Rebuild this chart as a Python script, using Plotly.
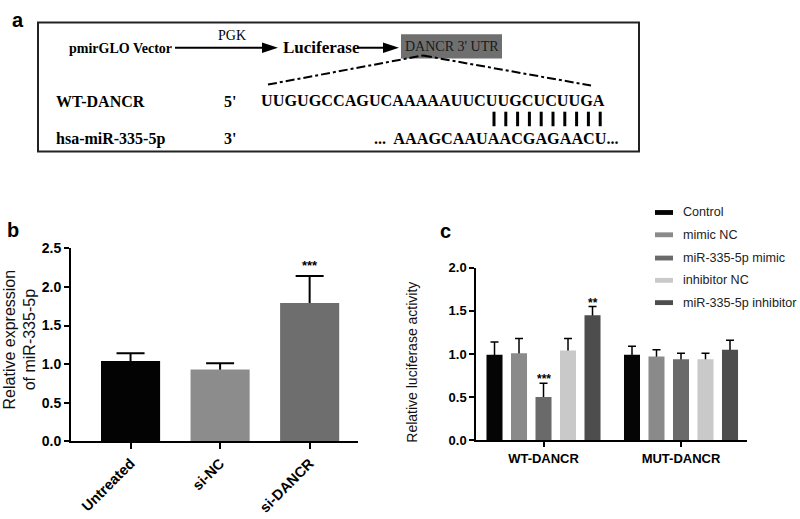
import plotly.graph_objects as go

# ---------------- data ----------------
b_categories = ["Untreated", "si-NC", "si-DANCR"]
b_values = [1.04, 0.93, 1.79]
b_errors = [0.10, 0.08, 0.35]
b_sig = ["", "", "***"]
b_colors = ["#030303", "#8c8c8c", "#6e6e6e"]

c_groups = ["WT-DANCR", "MUT-DANCR"]
c_series = ["Control", "mimic NC", "miR-335-5p mimic", "inhibitor NC", "miR-335-5p inhibitor"]
c_control = [0.99, 0.99]
c_control_err = [0.15, 0.10]
c_mimic_nc = [1.01, 0.97]
c_mimic_nc_err = [0.17, 0.08]
c_mimic = [0.50, 0.94]
c_mimic_err = [0.16, 0.07]
c_inhib_nc = [1.04, 0.94]
c_inhib_nc_err = [0.14, 0.07]
c_inhib = [1.45, 1.05]
c_inhib_err = [0.10, 0.11]
c_sig = [["", ""], ["", ""], ["***", ""], ["", ""], ["**", ""]]
c_colors = ["#050505", "#8a8a8a", "#6a6a6a", "#c9c9c9", "#4d4d4d"]

wt_seq = "UUGUGCCAGUCAAAAAUUCUUGCUCUUGA"
mir_seq = "...  AAAGCAAUAACGAGAACU..."

W, H = 800, 519
SANS = "Liberation Sans"
SERIF = "Liberation Serif"


def px(x):
    return x / W


def py(y):
    return 1 - y / H


fig = go.Figure()
CLEAR = "rgba(0,0,0,0)"

# ---------------- panel b ----------------
B_WIDTH = 0.66
# error bars on a hidden trace drawn first, so the solid bars hide the lower half
fig.add_trace(go.Bar(
    x=b_categories, y=b_values, width=B_WIDTH, offset=-B_WIDTH / 2,
    marker=dict(color=CLEAR, line=dict(width=0)),
    error_y=dict(type="data", array=b_errors, color="black", thickness=2, width=14),
    xaxis="x", yaxis="y", showlegend=False, hoverinfo="skip",
))
fig.add_trace(go.Bar(
    x=b_categories, y=b_values, width=B_WIDTH, offset=-B_WIDTH / 2,
    marker=dict(color=b_colors, line=dict(width=0)),
    xaxis="x", yaxis="y", showlegend=False,
))

# ---------------- panel c ----------------
c_vals = [c_control, c_mimic_nc, c_mimic, c_inhib_nc, c_inhib]
c_errs = [c_control_err, c_mimic_nc_err, c_mimic_err, c_inhib_nc_err, c_inhib_err]
BARGAP = 0.109
BARGROUPGAP = 0.346
n_ser = len(c_series)
slot = (1 - BARGAP) / n_ser
c_width = slot * (1 - BARGROUPGAP)
c_offsets = [(si - (n_ser - 1) / 2) * slot for si in range(n_ser)]

for name, vals, errs, off in zip(c_series, c_vals, c_errs, c_offsets):
    fig.add_trace(go.Bar(
        x=c_groups, y=vals, width=c_width, offset=off - c_width / 2,
        marker=dict(color=CLEAR, line=dict(width=0)),
        error_y=dict(type="data", array=errs, color="black", thickness=1.5, width=4),
        xaxis="x2", yaxis="y2", showlegend=False, hoverinfo="skip",
    ))
for name, vals, col, off in zip(c_series, c_vals, c_colors, c_offsets):
    fig.add_trace(go.Bar(
        x=c_groups, y=vals, name=name, width=c_width, offset=off - c_width / 2,
        marker=dict(color=col, line=dict(width=0)),
        xaxis="x2", yaxis="y2", showlegend=False,
    ))

annotations = []
shapes = []

# significance marks
for i, (cat, v, e, s) in enumerate(zip(b_categories, b_values, b_errors, b_sig)):
    if s:
        annotations.append(dict(x=i, y=v + e, xref="x", yref="y", text=s, showarrow=False,
                                yanchor="bottom", yshift=1,
                                font=dict(family=SANS, size=13, color="black", weight="bold")))
for vals, errs, sigs, off in zip(c_vals, c_errs, c_sig, c_offsets):
    for gi, s in enumerate(sigs):
        if s:
            annotations.append(dict(x=gi + off, y=vals[gi] + errs[gi], xref="x2", yref="y2", text=s,
                                    showarrow=False, yanchor="bottom", yshift=-5,
                                    font=dict(family=SANS, size=12, color="black", weight="bold")))

# axis titles
annotations.append(dict(x=px(20), y=py(342), xref="paper", yref="paper",
                        text="Relative expression<br>of miR-335-5p", textangle=-90,
                        xanchor="center", yanchor="middle",
                        showarrow=False, font=dict(family=SANS, size=16, color="#111")))
annotations.append(dict(x=px(412), y=py(366), xref="paper", yref="paper",
                        text="Relative luciferase activity", textangle=-90,
                        xanchor="center", yanchor="middle",
                        showarrow=False, font=dict(family=SANS, size=14, color="#111")))

# panel letters
for letter, x, y in [("a", 18, 12), ("b", 13, 229), ("c", 445, 230)]:
    annotations.append(dict(x=px(x), y=py(y), xref="paper", yref="paper", text=letter,
                            xanchor="center", yanchor="middle",
                            showarrow=False, font=dict(family=SANS, size=20, color="black", weight="bold")))

# manual legend
leg_y = [211, 234, 258, 281, 304]
for name, col, y in zip(c_series, c_colors, leg_y):
    shapes.append(dict(type="rect", xref="paper", yref="paper",
                       x0=px(655), x1=px(673), y0=py(y + 2.5), y1=py(y - 2.5),
                       fillcolor=col, line=dict(width=0)))
    annotations.append(dict(x=px(681), y=py(y), xref="paper", yref="paper", text=name,
                            xanchor="left", yanchor="middle", showarrow=False,
                            font=dict(family=SANS, size=12.6, color="#222")))

# ---------------- panel a (schematic) ----------------
shapes.append(dict(type="rect", xref="paper", yref="paper", x0=px(38), x1=px(639),
                   y0=py(148), y1=py(15), line=dict(color="#222", width=2)))
# arrows
shapes.append(dict(type="line", xref="paper", yref="paper", x0=px(175), x1=px(265),
                   y0=py(41), y1=py(41), line=dict(color="black", width=2)))
shapes.append(dict(type="path", xref="paper", yref="paper",
                   path=f"M {px(262)} {py(35.5)} L {px(278)} {py(41)} L {px(262)} {py(46.5)} Z",
                   fillcolor="black", line=dict(width=0)))
shapes.append(dict(type="line", xref="paper", yref="paper", x0=px(358), x1=px(386),
                   y0=py(41), y1=py(41), line=dict(color="black", width=2)))
shapes.append(dict(type="path", xref="paper", yref="paper",
                   path=f"M {px(383)} {py(35.5)} L {px(399)} {py(41)} L {px(383)} {py(46.5)} Z",
                   fillcolor="black", line=dict(width=0)))
# gray UTR box
shapes.append(dict(type="rect", xref="paper", yref="paper", x0=px(401), x1=px(502),
                   y0=py(52), y1=py(27), fillcolor="#6f6f6f", line=dict(width=0)))
# dash-dot zoom lines
shapes.append(dict(type="line", xref="paper", yref="paper", x0=px(268), y0=py(79),
                   x1=px(423), y1=py(49), line=dict(color="black", width=2, dash="dashdot")))
shapes.append(dict(type="line", xref="paper", yref="paper", x0=px(423), y0=py(49),
                   x1=px(591), y1=py(80), line=dict(color="black", width=2, dash="dashdot")))
# base-pairing bars
for k in range(10):
    xb = 494 + 11.8 * k
    shapes.append(dict(type="line", xref="paper", yref="paper", x0=px(xb), x1=px(xb),
                       y0=py(107), y1=py(122), line=dict(color="black", width=3)))


def txt(x, y, s, size, bold=False, family=SERIF, color="black", anchor="left"):
    annotations.append(dict(x=px(x), y=py(y), xref="paper", yref="paper", text=s,
                            xanchor=anchor, yanchor="middle", showarrow=False,
                            font=dict(family=family, size=size, color=color,
                                      weight="bold" if bold else "normal")))


txt(67, 42, "pmirGLO Vector", 14, bold=True)
txt(216, 28, "PGK", 14)
txt(281, 41, "Luciferase", 17, bold=True)
txt(452, 40, "DANCR 3' UTR", 14, color="#1a1a1a", anchor="center")
txt(54, 96, "WT-DANCR", 16, bold=True)
txt(222, 96, "5'", 16, bold=True)
txt(259, 96, wt_seq, 16.2, bold=True)
txt(54, 135, "hsa-miR-335-5p", 16, bold=True)
txt(222, 135, "3'", 16, bold=True)
txt(372, 135, mir_seq, 16.2, bold=True)

axis_common = dict(showline=True, linecolor="black", ticks="outside", tickcolor="black",
                   showgrid=False, zeroline=False)

fig.update_layout(
    width=W, height=H, autosize=False,
    margin=dict(l=0, r=0, t=0, b=0),
    paper_bgcolor="white", plot_bgcolor="white",
    barmode="overlay",
    showlegend=False,
    xaxis=dict(domain=[px(71), px(358)], range=[-0.665, 2.54], anchor="y",
               linewidth=2, tickwidth=2, ticklen=6, tickangle=-45,
               tickfont=dict(family=SANS, size=14.5, color="black", weight="bold"), **axis_common),
    yaxis=dict(domain=[py(447), py(248)], range=[0, 2.5], dtick=0.5, tickformat=".1f", anchor="x",
               linewidth=2, tickwidth=2, ticklen=5,
               tickfont=dict(family=SANS, size=14, color="black", weight="bold"), **axis_common),
    xaxis2=dict(domain=[px(476), px(747)], range=[-0.491, 1.48], anchor="y2",
                linewidth=1.5, tickwidth=1.5, ticklen=5,
                tickfont=dict(family=SANS, size=13, color="black", weight="bold"), **axis_common),
    yaxis2=dict(domain=[py(446), py(268)], range=[0, 2.0], dtick=0.5, tickformat=".1f", anchor="x2",
                linewidth=1.5, tickwidth=1.5, ticklen=5,
                tickfont=dict(family=SANS, size=13, color="black", weight="bold"), **axis_common),
    annotations=annotations,
    shapes=shapes,
)

fig.write_html("out.html", config={"displayModeBar": False},
               post_script="document.body.style.margin='0';")
